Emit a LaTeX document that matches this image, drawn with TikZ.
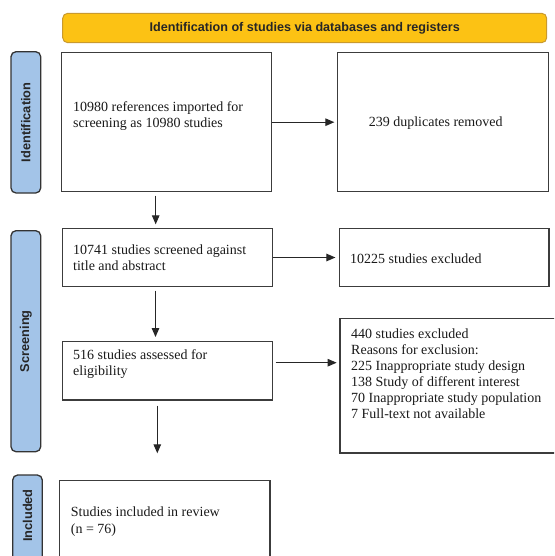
\documentclass[tikz,border=0pt]{standalone}
\usepackage{fontspec}
\setmainfont{Liberation Serif}
\newfontfamily\hdfont{Liberation Sans}
\usetikzlibrary{arrows.meta,calc}
\definecolor{bannerfill}{HTML}{FCC214}
\definecolor{bannerline}{HTML}{C99A2E}
\definecolor{sidefill}{HTML}{A3C4E8}
\definecolor{sideline}{HTML}{333333}
\definecolor{boxline}{HTML}{3C3C3C}
\tikzset{
  box/.style={draw=boxline, line width=1.3pt, rectangle, inner sep=0pt},
  side/.style={draw=sideline, fill=sidefill, line width=1.3pt, rounded corners=5pt, inner sep=0pt},
  sidetext/.style={font=\hdfont\bfseries\fontsize{12.8}{14}\selectfont, text=black!85, rotate=90, inner sep=0pt},
  body/.style={font=\fontsize{14}{16.5}\selectfont, align=left, anchor=west, inner sep=0pt, text=black!90},
  arr/.style={-{Triangle[length=9pt,width=7.5pt]}, line width=1.1pt, black!85},
}
\begin{document}
\begin{tikzpicture}[x=1pt,y=-1pt]
\useasboundingbox (0,0) rectangle (554,556);
\clip (0,0) rectangle (554,556);
% banner
\node[draw=bannerline, fill=bannerfill, line width=1pt, rounded corners=5pt, minimum width=484pt, minimum height=29.4pt, inner sep=0pt,
  font=\hdfont\bfseries\fontsize{12.6}{14}\selectfont, text=black!85] (banner) at (304.7,28) {Identification of studies via databases and registers};
% side bars
\node[side, minimum width=29.7pt, minimum height=141.3pt] (sideI) at (25.85,122.35) {};
\node[sidetext] (sideIt) at (sideI.center) {Identification};
\node[side, minimum width=29.7pt, minimum height=221pt] (sideS) at (25.85,341.2) {};
\node[sidetext] (sideSt) at (sideS.center) {Screening};
\node[side, minimum width=29.6pt, minimum height=110pt] (sideN) at (27.5,530) {};
\node[sidetext] (sideNt) at (27.5,515.5) {Included};
% boxes
\node[box, minimum width=210.2pt, minimum height=139pt] (b1) at (166.6,122.2) {};
\node[body] (t1) at (73,116) {10980 references imported for\\screening as 10980 studies};
\node[box, minimum width=211pt, minimum height=139pt] (b2) at (442.8,122.2) {};
\node[body] (t2) at (368.6,122.7) {239 duplicates removed};
\node[box, minimum width=210pt, minimum height=58.4pt] (b3) at (167.3,257.5) {};
\node[body] (t3) at (73,257.7) {10741 studies screened against\\title and abstract};
\node[box, minimum width=209.7pt, minimum height=58.4pt] (b4) at (444.2,257.5) {};
\node[body] (t4) at (350,258.3) {10225 studies excluded};
\node[box, minimum width=210.5pt, minimum height=58.3pt] (b5) at (167.5,370.85) {};
\node[body] (t5) at (73,364) {516 studies assessed for\\eligibility};
\node[box, minimum width=230pt, minimum height=134.3pt] (b6) at (455,385.85) {};
\node[body, font=\fontsize{14}{16.1}\selectfont] (t6) at (351,373.5) {440 studies excluded\\Reasons for exclusion:\\225 Inappropriate study design\\138 Study of different interest\\70 Inappropriate study population\\7 Full-text not available};
\node[box, minimum width=210.7pt, minimum height=100pt] (b7) at (164.65,530.7) {};
\node[body] (t7) at (70.7,521.7) {Studies included in review\\(n = 76)};
% connectors
\draw[arr, shorten >=2.3pt] (b1.east) -- (b2.west);
\draw[arr, shorten >=3.3pt] (b3.east) -- (b4.west);
\draw[arr, shorten <=2.3pt, shorten >=2.7pt] (b5.east |- 0,362.7) -- (b6.west |- 0,362.7);
\draw[arr, shorten <=3.3pt, shorten >=3.3pt] (b1.south -| 155.7,0) -- (b3.north -| 155.7,0);
\draw[arr, shorten <=3.3pt, shorten >=4pt] (b3.south -| 155.5,0) -- (b5.north -| 155.5,0);
\coordinate (end3) at (157.3,453.3);
\draw[arr, shorten <=5pt] (b5.south -| end3) -- (end3);
\end{tikzpicture}
\end{document}
